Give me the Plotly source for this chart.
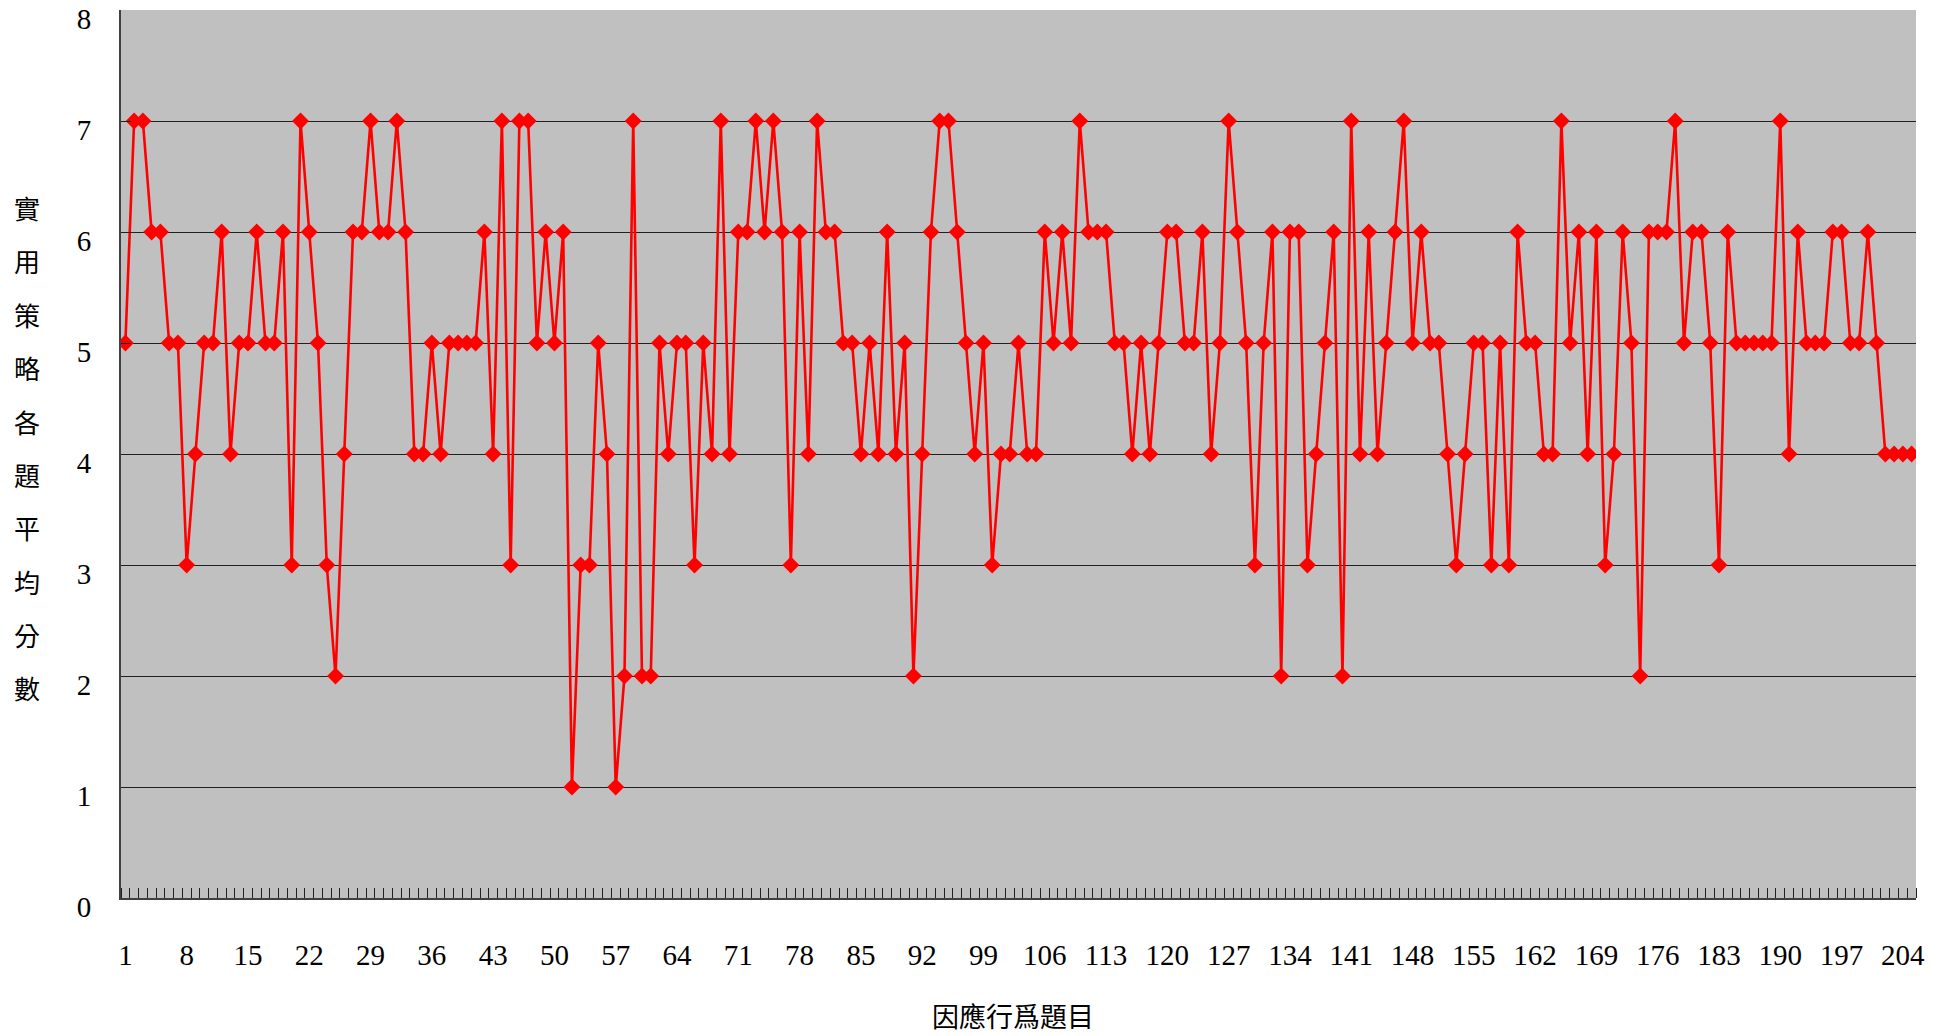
import plotly.graph_objects as go

# ---- data -------------------------------------------------------------
items = list(range(1, 206))  # item numbers 1..205

scores = [
    5, 7, 7, 6, 6, 5, 5, 3, 4, 5,
    5, 6, 4, 5, 5, 6, 5, 5, 6, 3,
    7, 6, 5, 3, 2, 4, 6, 6, 7, 6,
    6, 7, 6, 4, 4, 5, 4, 5, 5, 5,
    5, 6, 4, 7, 3, 7, 7, 5, 6, 5,
    6, 1, 3, 3, 5, 4, 1, 2, 7, 2,
    2, 5, 4, 5, 5, 3, 5, 4, 7, 4,
    6, 6, 7, 6, 7, 6, 3, 6, 4, 7,
    6, 6, 5, 5, 4, 5, 4, 6, 4, 5,
    2, 4, 6, 7, 7, 6, 5, 4, 5, 3,
    4, 4, 5, 4, 4, 6, 5, 6, 5, 7,
    6, 6, 6, 5, 5, 4, 5, 4, 5, 6,
    6, 5, 5, 6, 4, 5, 7, 6, 5, 3,
    5, 6, 2, 6, 6, 3, 4, 5, 6, 2,
    7, 4, 6, 4, 5, 6, 7, 5, 6, 5,
    5, 4, 3, 4, 5, 5, 3, 5, 3, 6,
    5, 5, 4, 4, 7, 5, 6, 4, 6, 3,
    4, 6, 5, 2, 6, 6, 6, 7, 5, 6,
    6, 5, 3, 6, 5, 5, 5, 5, 5, 7,
    4, 6, 5, 5, 5, 6, 6, 5, 5, 6,
    5, 4, 4, 4, 4,
]

x_tick_vals = [1, 8, 15, 22, 29, 36, 43, 50, 57, 64, 71, 78, 85, 92, 99,
               106, 113, 120, 127, 134, 141, 148, 155, 162, 169, 176, 183,
               190, 197, 204]
y_tick_vals = [0, 1, 2, 3, 4, 5, 6, 7, 8]

x_title = "因應行爲題目"
y_title_chars = list("實用策略各題平均分數")

# ---- figure -----------------------------------------------------------
FONT = "Liberation Serif, 'Noto Sans CJK TC', serif"
CJK = "'Noto Sans CJK TC', 'Noto Sans CJK SC', sans-serif"

fig = go.Figure()
fig.add_trace(go.Scatter(
    x=items, y=scores, mode="lines+markers",
    line=dict(color="#FF0000", width=2.6),
    marker=dict(symbol="diamond", size=13, color="#FF0000"),
    showlegend=False, hoverinfo="x+y",
))

fig.update_layout(
    width=1937, height=1036,
    margin=dict(l=121, r=21, t=10, b=138, autoexpand=False),
    paper_bgcolor="white",
    plot_bgcolor="#C0C0C0",
    font=dict(family=FONT, size=29, color="black"),
)

fig.update_xaxes(
    range=[0.5, len(items) + 0.5], automargin=False,
    tickmode="array", tickvals=x_tick_vals,
    ticktext=[str(v) for v in x_tick_vals],
    ticks="", showgrid=False, zeroline=False,
    showline=True, linecolor="#404040", linewidth=2,
    ticklabelstandoff=30,
    tickfont=dict(family=FONT, size=29, color="black"),
    minor=dict(tickmode="linear", tick0=0.5, dtick=1, ticks="inside",
               ticklen=10, tickcolor="#202020", tickwidth=1, showgrid=False),
)

fig.update_yaxes(
    range=[0, 8], automargin=False,
    tickmode="array", tickvals=y_tick_vals,
    ticks="inside", ticklen=10, tickcolor="#202020", tickwidth=1,
    showgrid=True, gridcolor="#202020", gridwidth=1,
    zeroline=False,
    showline=True, linecolor="#404040", linewidth=2,
    ticklabelstandoff=22, ticklabelshift=9,
    tickfont=dict(family=FONT, size=29, color="black"),
)

# x-axis title
fig.add_annotation(
    text=x_title, xref="paper", yref="paper", x=0.497, y=-0.132,
    xanchor="center", yanchor="middle", showarrow=False,
    font=dict(family=CJK, size=27, color="black"),
)

# vertical (stacked) y-axis title, one character per line
top_y, bottom_y = 0.7776, 0.2365
n = len(y_title_chars)
for k, ch in enumerate(y_title_chars):
    fig.add_annotation(
        text=ch, xref="paper", yref="paper",
        x=-0.0524, y=top_y - k * (top_y - bottom_y) / (n - 1),
        xanchor="center", yanchor="middle", showarrow=False,
        font=dict(family=CJK, size=26, color="black"),
    )

fig.write_html(
    "out.html",
    config={"displayModeBar": False},
    post_script="document.body.style.margin='0';document.body.style.overflow='hidden';",
)
